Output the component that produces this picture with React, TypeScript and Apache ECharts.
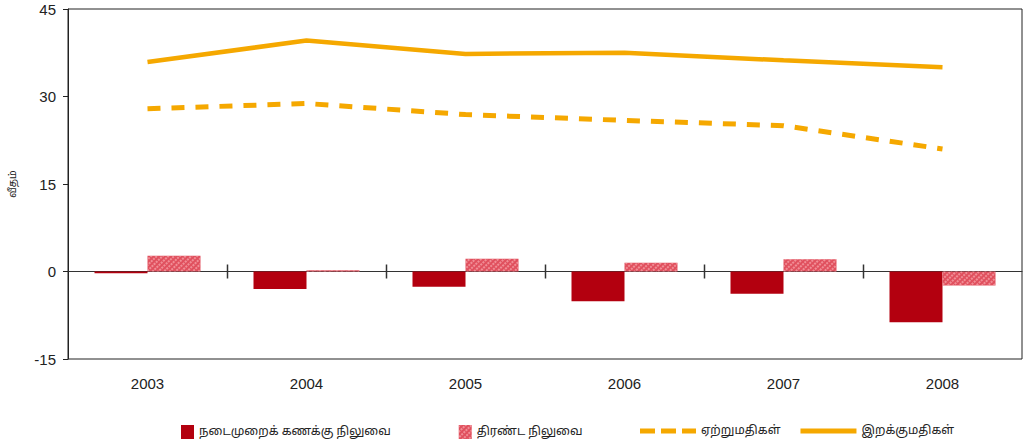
import React, { useEffect, useRef } from "react";
import * as echarts from "echarts";

const years = ["2003", "2004", "2005", "2006", "2007", "2008"];
const currentAccount = [-0.3, -3.0, -2.6, -5.1, -3.8, -8.7];
const overallBalance = [2.7, 0.2, 2.2, 1.5, 2.1, -2.4];
const exportsGrowth = [27.9, 28.8, 26.9, 25.9, 25.0, 21.0];
const importsGrowth = [35.9, 39.6, 37.3, 37.5, 36.2, 35.0];

const nameCurrent = "நடைமுறைக் கணக்கு நிலுவை";
const nameOverall = "திரண்ட நிலுவை";
const nameExports = "ஏற்றுமதிகள்";
const nameImports = "இறக்குமதிகள்";
const yAxisName = "வீதம்";

const FONT = "'Liberation Sans', Arial, sans-serif";
const NARROW = "'Liberation Sans Narrow', 'Liberation Sans', Arial, sans-serif";
const TAMIL = "'Noto Sans Tamil', 'Latha', 'Noto Sans', sans-serif";

export default function App() {
  const ref = useRef<HTMLDivElement>(null);
  useEffect(() => {
    if (!ref.current) return;
    const chart = echarts.init(ref.current, undefined, { renderer: "svg" });
    const darkRed = "#b3000f";
    const pink = "#e0505e";
    const orange = "#f5a800";
    const tickData = years.map((_, i) => [i, 0]).slice(1);
    chart.setOption({
      animation: false,
      backgroundColor: "#ffffff",
      grid: {
        left: 66,
        right: 6,
        top: 9,
        bottom: 81,
        show: true,
        borderColor: "#222",
        borderWidth: 1,
        backgroundColor: "transparent",
      },
      legend: [
        {
          left: 176,
          top: 420,
          itemWidth: 13,
          itemHeight: 14,
          itemGap: 68,
          icon: "rect",
          textStyle: { fontFamily: TAMIL, fontSize: 12, color: "#222" },
          data: [nameCurrent, nameOverall],
        },
        {
          left: 635,
          top: 420,
          itemWidth: 56,
          itemHeight: 5,
          itemGap: 20,
          textStyle: { fontFamily: TAMIL, fontSize: 12, color: "#222" },
          data: [
            {
              name: nameExports,
              icon: "path://M0,0h15v5h-15z M21,0h15v5h-15z M42,0h14v5h-14z",
              itemStyle: { color: orange },
            },
            {
              name: nameImports,
              icon: "path://M0,0h56v5h-56z",
              itemStyle: { color: orange },
            },
          ],
        },
      ],
      xAxis: [
        {
          type: "category",
          data: years,
          boundaryGap: true,
          position: "bottom",
          axisLine: { show: false, onZero: false },
          axisTick: { show: false },
          axisLabel: {
            margin: 17,
            fontFamily: NARROW,
            fontSize: 15,
            color: "#222",
          },
          splitLine: { show: false },
        },
        {
          type: "category",
          data: years,
          boundaryGap: true,
          position: "bottom",
          axisLine: { show: true, onZero: true, lineStyle: { color: "#333", width: 1 } },
          axisTick: { show: false },
          axisLabel: { show: false },
          splitLine: { show: false },
        },
      ],
      yAxis: {
        type: "value",
        min: -15,
        max: 45,
        interval: 15,
        name: yAxisName,
        nameLocation: "middle",
        nameGap: 50,
        nameRotate: 90,
        nameTextStyle: { fontFamily: TAMIL, fontSize: 10, color: "#222" },
        axisLine: { show: true, lineStyle: { color: "#222" } },
        axisTick: { show: true, length: 5, lineStyle: { color: "#222" } },
        axisLabel: { margin: 12, fontFamily: FONT, fontSize: 15, color: "#222" },
        splitLine: { show: false },
      },
      series: [
        {
          name: nameCurrent,
          type: "bar",
          xAxisIndex: 0,
          data: currentAccount,
          barWidth: 53,
          barGap: "0%",
          itemStyle: { color: darkRed },
          z: 3,
        },
        {
          name: nameOverall,
          type: "bar",
          xAxisIndex: 0,
          data: overallBalance,
          barWidth: 53,
          barGap: "0%",
          itemStyle: {
            color: pink,
            decal: {
              symbol: "rect",
              symbolSize: 1,
              color: "rgba(255,190,195,0.55)",
              dashArrayX: [2, 2],
              dashArrayY: [2, 1],
              rotation: 0.8,
            },
          },
          z: 3,
        },
        {
          name: nameExports,
          type: "line",
          xAxisIndex: 0,
          data: exportsGrowth,
          symbol: "none",
          lineStyle: { color: orange, width: 5, type: [13, 11] },
          itemStyle: { color: orange },
          z: 4,
        },
        {
          name: nameImports,
          type: "line",
          xAxisIndex: 0,
          data: importsGrowth,
          symbol: "none",
          lineStyle: { color: orange, width: 4.5, type: "solid" },
          itemStyle: { color: orange },
          z: 4,
        },
        {
          name: "ticks",
          type: "custom",
          xAxisIndex: 0,
          silent: true,
          z: 5,
          data: tickData,
          encode: { x: 0, y: 1 },
          renderItem: (params: any, api: any) => {
            const idx = api.value(0);
            const c = api.coord([idx, 0]);
            const w = api.size([1, 0])[0];
            const x = Math.round(c[0] - w / 2) + 0.5;
            return {
              type: "line",
              shape: { x1: x, y1: c[1] - 7, x2: x, y2: c[1] + 7 },
              style: { stroke: "#333", lineWidth: 1.5 },
            };
          },
        },
      ],
    });
    return () => chart.dispose();
  }, []);
  return (
    <div
      ref={ref}
      style={{ position: "fixed", left: 0, top: 0, width: 1028, height: 440, background: "#fff" }}
    />
  );
}
